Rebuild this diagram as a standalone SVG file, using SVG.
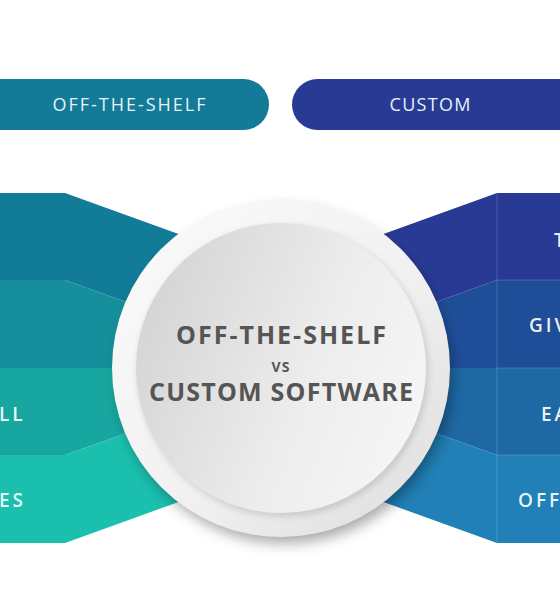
<svg xmlns="http://www.w3.org/2000/svg" width="560" height="600" viewBox="0 0 560 600">
<defs>
<style>
.pill-text{font-family:"Open Sans","Liberation Sans",sans-serif;font-size:18px;fill:#e6f2f6;letter-spacing:2px}
.band-text{font-family:"Open Sans","Liberation Sans",sans-serif;font-size:19px;font-weight:600;fill:#ffffff;fill-opacity:0.92;letter-spacing:3px}
.center-text{font-family:"Open Sans","Liberation Sans",sans-serif;font-weight:700;fill:#555555}
.sep{stroke:#ffffff;stroke-opacity:0.18;stroke-width:1}
</style>
<linearGradient id="ringGrad" x1="0" y1="0" x2="1" y2="1">
<stop offset="0" stop-color="#fbfbfb"/>
<stop offset="0.55" stop-color="#f1f1f1"/>
<stop offset="1" stop-color="#dcdcdc"/>
</linearGradient>
<linearGradient id="innerGrad" x1="0" y1="0.3" x2="1" y2="0.7">
<stop offset="0" stop-color="#d4d4d4"/>
<stop offset="0.6" stop-color="#ededed"/>
<stop offset="1" stop-color="#f6f6f6"/>
</linearGradient>
<filter id="shadow" x="-30%" y="-30%" width="160%" height="160%">
<feGaussianBlur stdDeviation="7"/>
</filter>
<filter id="innerShadow" x="-20%" y="-20%" width="140%" height="140%">
<feGaussianBlur stdDeviation="3"/>
</filter>
</defs>
<rect width="560" height="600" fill="#ffffff"/>

<g id="pill-off-the-shelf">
<rect x="-40" y="79" width="309" height="51" rx="25.5" fill="#137b97"/>
<text class="pill-text" x="130" y="111" text-anchor="middle" textLength="155" lengthAdjust="spacing">OFF-THE-SHELF</text>
</g>
<g id="pill-custom">
<rect x="292" y="79" width="310" height="51" rx="25.5" fill="#283a93"/>
<text class="pill-text" x="431" y="111" text-anchor="middle" textLength="83" lengthAdjust="spacing">CUSTOM</text>
</g>

<g id="left-band-1">
<polygon points="0,193 65,193 281,271 281,358 65,280 0,280" fill="#127b97"/>
</g>
<g id="left-band-2">
<polygon points="0,280 65,280 281,358 281,368 0,368" fill="#158f9b"/>
</g>
<g id="left-band-3">
<polygon points="0,368 281,368 281,378 65,455 0,455" fill="#17a7a0"/>
<text class="band-text" x="-1" y="421">LL</text>
</g>
<g id="left-band-4">
<polygon points="0,455 65,455 281,378 281,465 65,543 0,543" fill="#1abfae"/>
<text class="band-text" x="-1" y="507">ES</text>
</g>

<g id="right-band-1">
<polygon points="560,193 497,193 281,271 281,358 497,280 560,280" fill="#283a93"/>
<text class="band-text" x="554" y="247">T</text>
</g>
<g id="right-band-2">
<polygon points="560,280 497,280 281,358 281,368 560,368" fill="#1f4e99"/>
<text class="band-text" x="529" y="332">GIV</text>
</g>
<g id="right-band-3">
<polygon points="560,368 281,368 281,378 497,455 560,455" fill="#1e68a4"/>
<text class="band-text" x="541" y="421">EA</text>
</g>
<g id="right-band-4">
<polygon points="560,455 497,455 281,378 281,465 497,543 560,543" fill="#2180b7"/>
<text class="band-text" x="518" y="507">OFF</text>
</g>
<g id="right-separators">
<line class="sep" x1="497" y1="193" x2="497" y2="543"/>
<line class="sep" x1="497" y1="280" x2="560" y2="280"/>
<line class="sep" x1="497" y1="368" x2="560" y2="368"/>
<line class="sep" x1="497" y1="455" x2="560" y2="455"/>
</g>

<g id="center-circle">
<circle cx="285" cy="376" r="167" fill="#000000" fill-opacity="0.35" filter="url(#shadow)"/>
<circle cx="281" cy="368" r="169" fill="url(#ringGrad)"/>
<circle cx="283" cy="371" r="146" fill="#000000" fill-opacity="0.12" filter="url(#innerShadow)"/>
<circle cx="281" cy="368" r="145" fill="url(#innerGrad)"/>
<text class="center-text" x="281" y="344" font-size="25" text-anchor="middle" textLength="210" lengthAdjust="spacing">OFF-THE-SHELF</text>
<text class="center-text" x="281" y="372" font-size="14" text-anchor="middle" letter-spacing="1">VS</text>
<text class="center-text" x="281" y="401" font-size="25" text-anchor="middle" textLength="264" lengthAdjust="spacing">CUSTOM SOFTWARE</text>
</g>
</svg>
